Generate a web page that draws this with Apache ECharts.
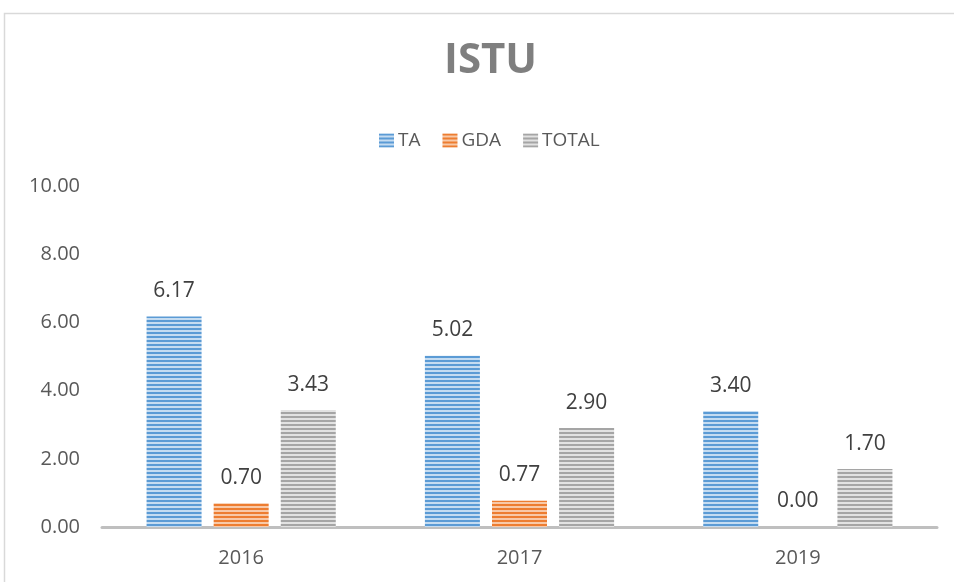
<!DOCTYPE html>
<html>
<head>
<meta charset="utf-8">
<script src="https://cdn.jsdelivr.net/npm/echarts@6/dist/echarts.min.js"></script>
<style>
  html, body { margin: 0; padding: 0; background: #fff; }
  #main { width: 954px; height: 582px; }
</style>
</head>
<body>
<div id="main"></div>
<script>
var years = ['2016', '2017', '2019'];
var ta = [6.17, 5.02, 3.40];
var gda = [0.70, 0.77, 0.00];
var total = [3.43, 2.90, 1.70];
var yTicks = [0, 2, 4, 6, 8, 10];

// striped fill, like the excel "horizontal lines" pattern
function stripes(dark, light) {
    var c = document.createElement('canvas');
    c.width = 4; c.height = 4;
    var ctx = c.getContext('2d');
    ctx.fillStyle = light;
    ctx.fillRect(0, 0, 4, 4);
    ctx.fillStyle = dark;
    ctx.fillRect(0, 0, 4, 2);
    return { image: c, repeat: 'repeat' };
}

var blue = stripes('#5b9bd5', '#c5dcf1');
var orange = stripes('#ed7d31', '#f8c9a8');
var gray = stripes('#a5a5a5', '#e2e2e2');

var chart = echarts.init(document.getElementById('main'));

var labelStyle = {
    show: true,
    position: 'top',
    distance: 15,
    color: '#404040',
    fontSize: 21,
    fontFamily: 'Open Sans',
    formatter: function (p) { return p.value.toFixed(2); }
};

option = {
    backgroundColor: '#fff',
    animation: false,
    title: {
        text: 'ISTU',
        left: 439,
        top: 35,
        textStyle: {
            color: '#7f7f7f',
            fontSize: 42,
            fontWeight: 'bold',
            fontFamily: 'Open Sans'
        }
    },
    legend: {
        top: 126,
        left: 374,
        icon: 'rect',
        itemWidth: 15,
        itemHeight: 14,
        itemGap: 22,
        textStyle: { color: '#595959', fontSize: 19, fontFamily: 'Open Sans', padding: [0, 0, 0, -1] },
        data: ['TA', 'GDA', 'TOTAL']
    },
    grid: {
        left: 102,
        right: 17,
        top: 186,
        bottom: 55
    },
    xAxis: {
        type: 'category',
        data: years,
        axisLine: { lineStyle: { color: '#bfbfbf', width: 3 } },
        axisTick: { show: false },
        axisLabel: { color: '#595959', fontSize: 20, fontFamily: 'Open Sans', margin: 21 }
    },
    yAxis: {
        type: 'value',
        min: yTicks[0],
        max: yTicks[yTicks.length - 1],
        interval: 2,
        splitLine: { show: false },
        axisLine: { show: false },
        axisTick: { show: false },
        axisLabel: {
            color: '#595959',
            fontSize: 20,
            fontFamily: 'Open Sans',
            margin: 22,
            formatter: function (v) { return v.toFixed(2); }
        }
    },
    series: [
        { name: 'TA', type: 'bar', data: ta, barWidth: 55, barGap: '22%',
          itemStyle: { color: blue }, label: labelStyle },
        { name: 'GDA', type: 'bar', data: gda, barWidth: 55,
          itemStyle: { color: orange }, label: labelStyle },
        { name: 'TOTAL', type: 'bar', data: total, barWidth: 55,
          itemStyle: { color: gray }, label: labelStyle }
    ],
    graphic: [{
        type: 'rect',
        shape: { x: 4.5, y: 13.5, width: 1000, height: 1000 },
        style: { fill: 'none', stroke: '#d9d9d9', lineWidth: 1.5 },
        silent: true
    }]
};

chart.setOption(option);
</script>
</body>
</html>
